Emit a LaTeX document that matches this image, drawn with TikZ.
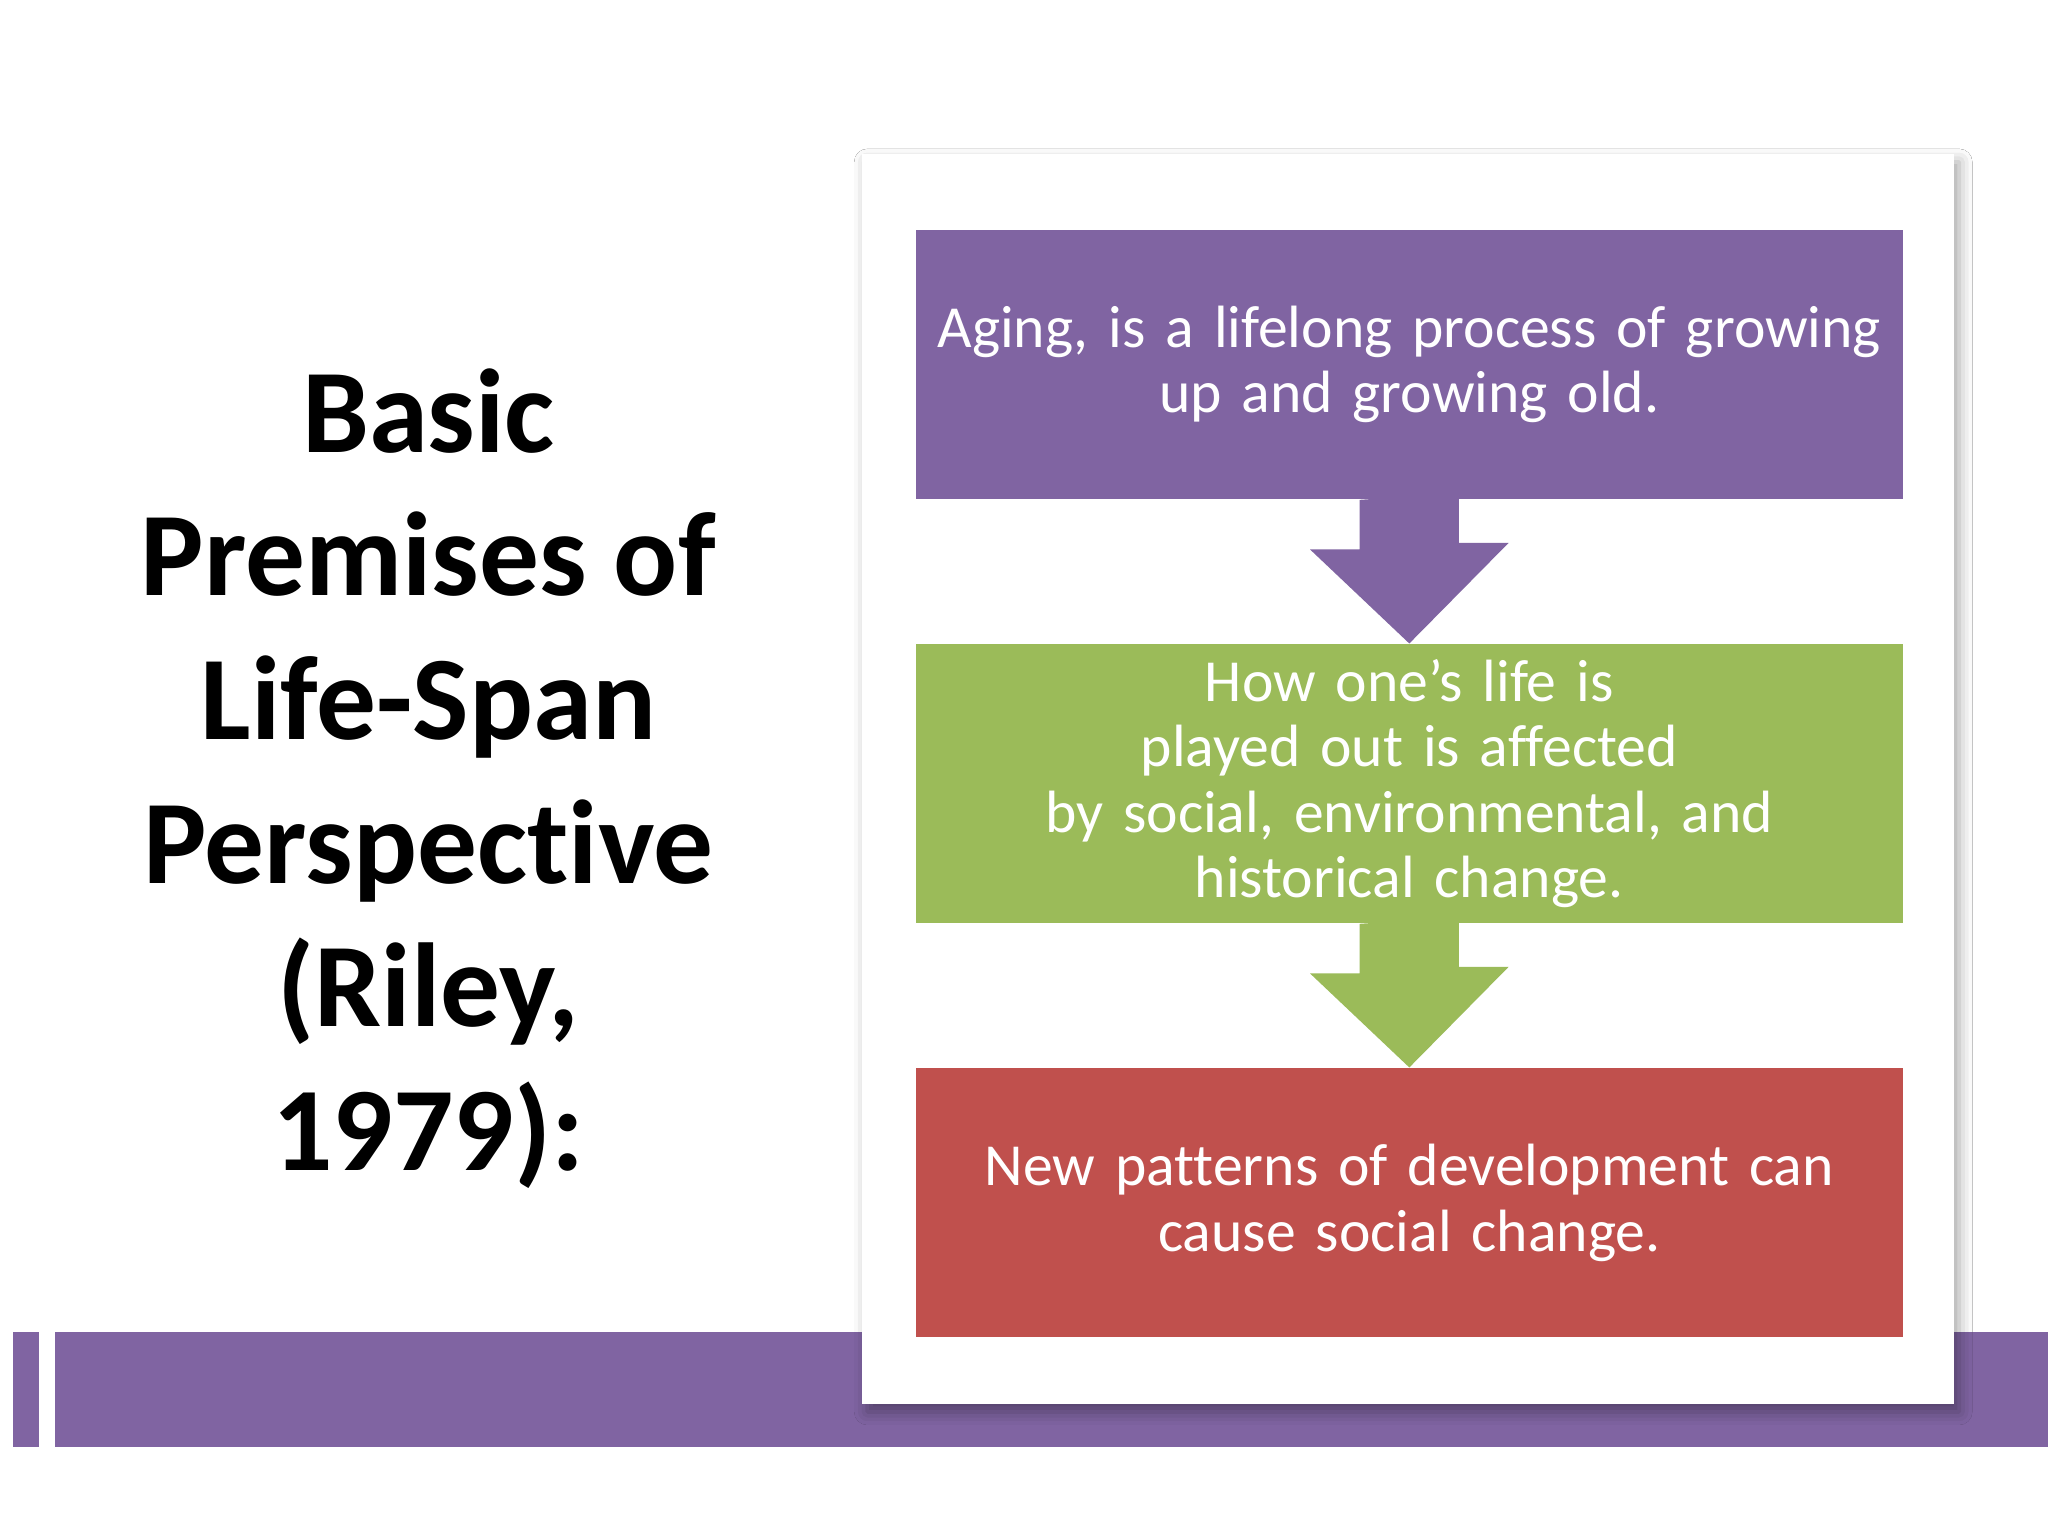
\documentclass[tikz,border=0pt]{standalone}
\usepackage{fontspec}
\setmainfont{Carlito}[Ligatures={NoCommon}]
\usetikzlibrary{shadows.blur}
\definecolor{ppurple}{HTML}{8064A2}
\definecolor{pgreen}{HTML}{9BBB59}
\definecolor{pred}{HTML}{C0504D}
\tikzset{
  premise/.style={fill=#1, draw=none, minimum width=7.56cm, minimum height=2.06cm, text=white, align=center, text width=7.3cm, font=\fontsize{13}{14.2}\selectfont},
  downarrow/.style={fill=#1, draw=none}
}
\begin{document}
\begin{tikzpicture}[x=1cm,y=1cm]
\useasboundingbox (0,0) rectangle (15.68,11.76);
\fill[white] (0,0) rectangle (15.68,11.76);
% bottom bars
\fill[ppurple] (0.10,0.68) rectangle (0.30,1.56);
\fill[ppurple] (0.42,0.68) rectangle (15.68,1.56);
% panel
\node[fill=white, draw=none, minimum width=8.36cm, minimum height=9.57cm, blur shadow={shadow xshift=0.04cm, shadow yshift=-0.06cm, shadow blur radius=0.1cm, shadow opacity=35}] (panel) at (10.78,5.795) {};
% boxes
\node[premise=ppurple] (b1) at (10.79,8.97) {Aging, is a lifelong process of growing\\up and growing old.};
\node[premise=pgreen] (b2) at (10.79,5.76) {How one’s life is played out is affected\\by social, environmental, and\\historical change.};
\node[premise=pred] (b3) at (10.79,2.55) {New patterns of development can\\cause social change.};
% arrows
\fill[downarrow=ppurple] (b1.south) ++(-0.38,0) -- ++(0,-0.38) -- ++(-0.38,0) -- (b2.north) -- ++(0.76,0.77) -- ++(-0.38,0) -- ++(0,0.38) -- cycle;
\fill[downarrow=pgreen] (b2.south) ++(-0.38,0) -- ++(0,-0.38) -- ++(-0.38,0) -- (b3.north) -- ++(0.76,0.77) -- ++(-0.38,0) -- ++(0,0.38) -- cycle;
% title
\node[align=center, font=\bfseries\fontsize{26}{31.3}\selectfont] (title) at (3.28,5.8) {Basic\\Premises of\\Life-Span\\Perspective\\(Riley,\\1979):};
\end{tikzpicture}
\end{document}
